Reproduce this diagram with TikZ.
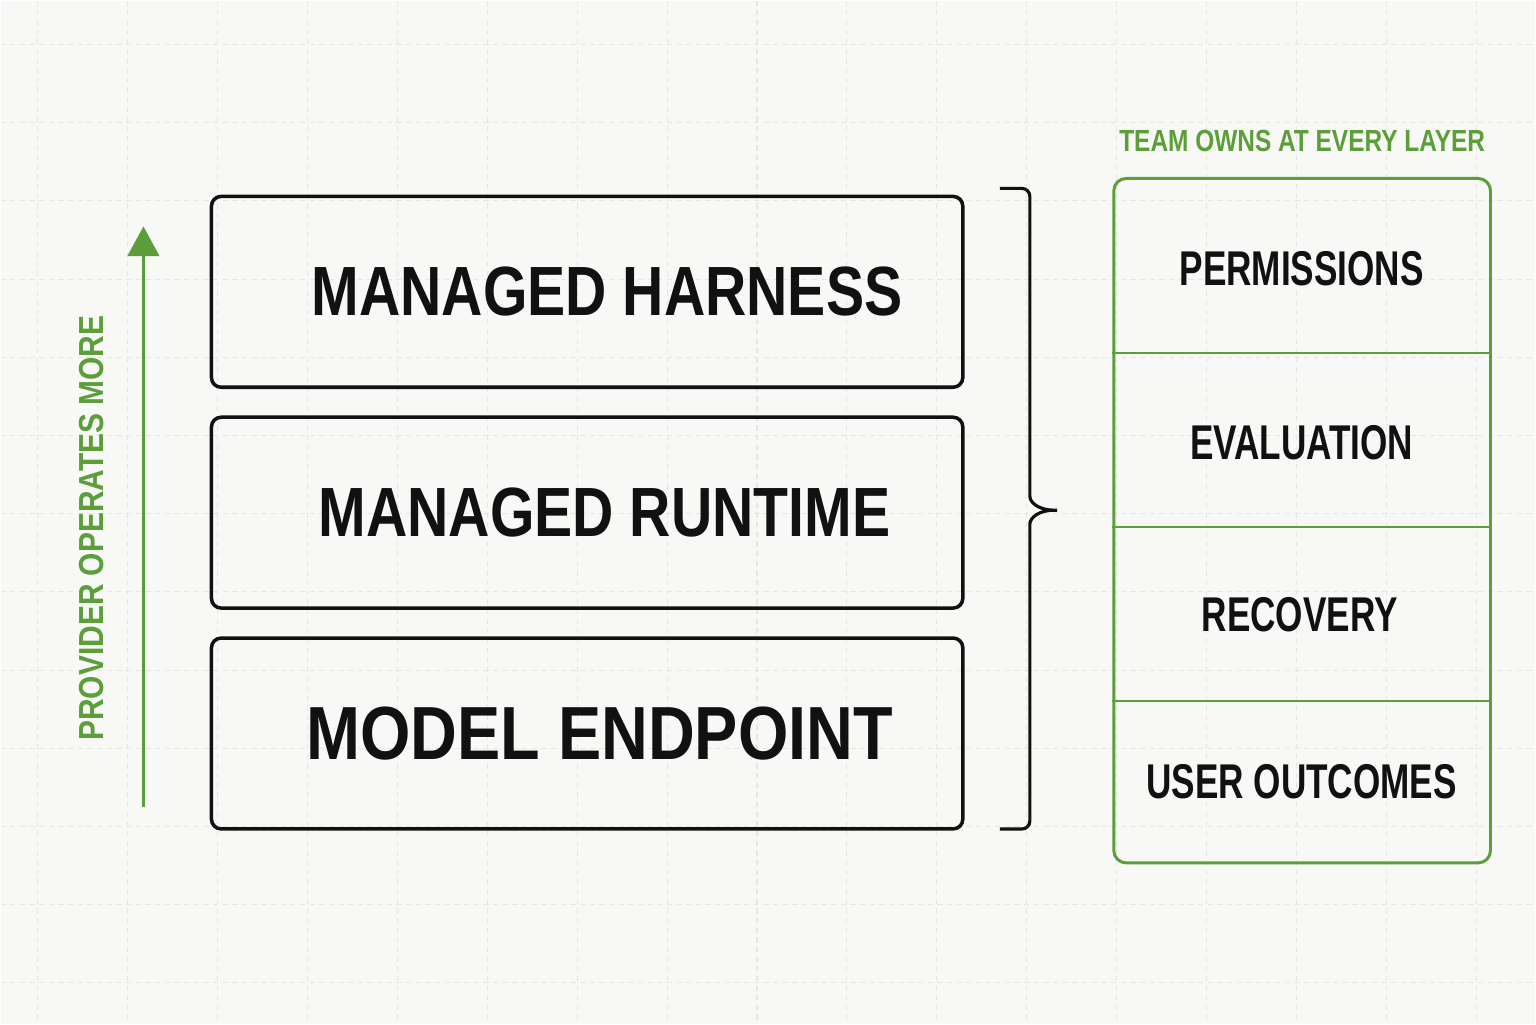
\documentclass[tikz,border=0pt]{standalone}
\usepackage{fontspec}
\usepackage{xcolor}
\usepackage{tikz}
\usetikzlibrary{positioning, arrows.meta}

\newfontfamily\layerfont[FakeStretch=0.82]{Liberation Sans}
\newfontfamily\widelayerfont[FakeStretch=0.86]{Liberation Sans}
\newfontfamily\dutyfont[FakeStretch=0.72]{Liberation Sans}
\newfontfamily\headfont[FakeStretch=0.80]{Liberation Sans}
\newfontfamily\sidefont[FakeStretch=0.86]{Liberation Sans}

\definecolor{paper}{HTML}{F8F8F6}
\definecolor{gridline}{HTML}{E6E6E3}
\definecolor{teamgreen}{RGB}{92,158,58}
\definecolor{ink}{HTML}{111111}

\begin{document}
\begin{tikzpicture}[x=0.02cm, y=-0.02cm, node distance=0.53cm, >={Triangle[width=18pt,length=17pt]},
    layer/.style={draw=ink, line width=2pt, rounded corners=5.5pt, minimum width=15.04cm, minimum height=3.82cm,
        text=ink, font=\layerfont\bfseries\fontsize{39.7}{44}\selectfont},
    teambox/.style={draw=teamgreen, line width=1.7pt, rounded corners=7pt, minimum width=7.54cm, minimum height=13.7cm},
    duty/.style={text=ink, font=\dutyfont\bfseries\fontsize{27.8}{32}\selectfont},
    divider/.style={draw=teamgreen, line width=1.2pt},
    bracket/.style={draw=ink, line width=1.8pt, rounded corners=4.5pt},
    provider/.style={draw=teamgreen, line width=1.7pt}]

    % background and grid
    \fill[paper] (0,0) rectangle (1536,1024);
    \foreach \gx in {0,...,16}
        \draw[gridline, line width=0.6pt, dash pattern=on 3pt off 2.5pt] ({37+90*\gx},0) -- ({37+90*\gx},1024);
    \foreach \gy in {0,...,12}
        \draw[gridline, line width=0.6pt, dash pattern=on 3pt off 2.5pt] (0,{44+78.25*\gy}) -- (1536,{44+78.25*\gy});

    % provider stack
    \node[layer] (harness) at (587,291.5) {\hspace*{0.8cm}MANAGED HARNESS};
    \node[layer] (runtime) [below=of harness] {\hspace*{0.7cm}MANAGED RUNTIME};
    \node[layer, font=\widelayerfont\bfseries\fontsize{42.9}{46}\selectfont] (endpoint) [below=of runtime] {\hspace*{0.5cm}MODEL ENDPOINT};

    \coordinate (arrow base) at (143,807);
    \coordinate (arrow tip) at (143,226);
    \draw[provider, ->, teamgreen] (arrow base) -- (arrow tip);
    \node[rotate=90, text=teamgreen, font=\sidefont\bfseries\fontsize{19.8}{22}\selectfont] (more) at (91,528) {PROVIDER OPERATES MORE};

    % brace
    \coordinate (brace top) at (1000,188);
    \coordinate (brace mid) at (1062,510);
    \coordinate (brace bottom) at (1000,829);
    \draw[bracket] (brace top) -| (1030,488) .. controls (1030,503) and (1040,510) .. (brace mid)
        .. controls (1040,510) and (1030,517) .. (1030,532) |- (brace bottom);

    % team column
    \node[teambox] (team) at (1302.5,520.5) {};
    \node[text=teamgreen, font=\headfont\bfseries\fontsize{17.4}{20}\selectfont, inner sep=0pt, above=0.5cm of team] (owns) {TEAM OWNS AT EVERY LAYER};

    \node[duty] (permissions) at (1302,268) {PERMISSIONS};
    \node[duty] (evaluation) at (1302,442) {EVALUATION};
    \node[duty] (recovery) at (1300,615) {RECOVERY};
    \node[duty] (outcomes) at (1302,782) {USER OUTCOMES};

    \foreach \ry in {353,527,701}
        \draw[divider] (team.west |- 0,\ry) -- (team.east |- 0,\ry);
\end{tikzpicture}
\end{document}
